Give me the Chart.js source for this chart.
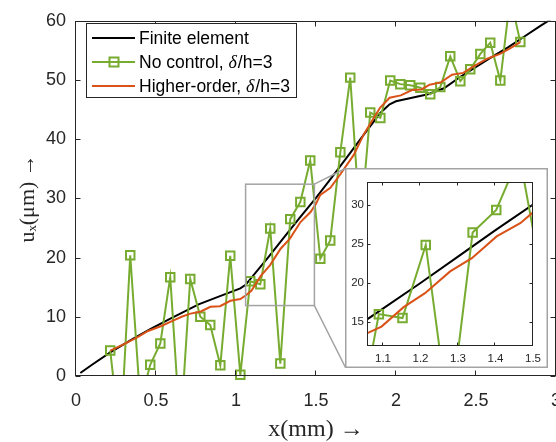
<!DOCTYPE html>
<html><head><meta charset="utf-8">
<script src="https://cdn.jsdelivr.net/npm/chart.js@4.4.0/dist/chart.umd.min.js"></script>
<style>
html,body{margin:0;padding:0;background:#fff;overflow:hidden;}
#wrap{position:relative;width:556px;height:442px;}
#main{position:absolute;left:0;top:0;}
#inset{position:absolute;left:345px;top:168px;background:#fff;}
</style></head><body>
<div id="wrap"><canvas id="main" width="556" height="442"></canvas><canvas id="inset" width="203" height="200"></canvas></div>
<script>
// ---------- data ----------
const seriesNames = ['Finite element', 'No control, ', 'Higher-order, '];
const seriesSuffix = ['', '/h=3', '/h=3'];

const xFiniteElement = [0.027, 0.1, 0.214, 0.35, 0.464, 0.59, 0.766, 0.9, 1.027, 1.06, 1.2, 1.3, 1.4, 1.5, 1.6, 1.7, 1.8, 1.85, 1.9, 1.96, 2.0, 2.1, 2.2, 2.3, 2.4, 2.5, 2.6, 2.7, 2.8, 2.9, 2.97];
const yFiniteElement = [0.5, 1.9, 4.0, 6.2, 7.9, 9.7, 12.1, 13.5, 14.8, 15.4, 20.0, 23.4, 26.8, 30.1, 33.6, 37.2, 40.8, 42.6, 44.4, 45.9, 46.4, 47.0, 47.6, 48.6, 50.5, 52.2, 53.9, 55.5, 57.3, 59.1, 60.3];

const xHigherOrder = [0.214, 0.30, 0.38, 0.45, 0.53, 0.61, 0.66, 0.71, 0.78, 0.84, 0.90, 0.965, 1.027, 1.06, 1.096, 1.155, 1.212, 1.279, 1.337, 1.403, 1.466, 1.5, 1.527, 1.59, 1.65, 1.735, 1.80, 1.90, 1.96, 2.03, 2.10, 2.16, 2.21, 2.28, 2.35, 2.42, 2.485, 2.57, 2.65, 2.71, 2.777];
const yHigherOrder = [4.3, 5.4, 6.5, 7.6, 8.4, 9.4, 10.0, 10.5, 10.9, 11.7, 11.8, 12.7, 13.0, 13.6, 14.4, 16.9, 18.7, 21.5, 23.2, 26.0, 27.7, 29.1, 30.6, 31.8, 34.0, 37.3, 40.9, 45.3, 47.0, 47.4, 48.3, 48.4, 49.2, 49.6, 50.9, 51.2, 52.3, 53.6, 54.4, 55.3, 56.4];

const xNoControl = [0.214, 0.277, 0.339, 0.402, 0.464, 0.527, 0.589, 0.652, 0.714, 0.777, 0.839, 0.902, 0.964, 1.027, 1.089, 1.152, 1.214, 1.277, 1.339, 1.402, 1.464, 1.527, 1.589, 1.652, 1.714, 1.777, 1.839, 1.902, 1.964, 2.027, 2.089, 2.152, 2.214, 2.277, 2.339, 2.402, 2.464, 2.527, 2.589, 2.652, 2.714, 2.777];
const yNoControl = [4.3, -11, 20.4, -4.5, 1.9, 5.5, 16.7, -9.5, 16.4, 10.0, 8.6, 1.8, 20.3, 0.2, 16.0, 15.5, 24.9, 2.1, 26.5, 29.4, 36.4, 19.8, 22.9, 37.8, 50.4, 25, 44.5, 43.6, 49.9, 49.3, 49.1, 48.7, 47.6, 48.8, 54.0, 49.8, 51.8, 54.4, 56.3, 49.9, 64, 56.4];

const xTicks = [0, 0.5, 1, 1.5, 2, 2.5, 3];
const xTickLabels = ['0', '0.5', '1', '1.5', '2', '2.5', '3'];
const yTicks = [0, 10, 20, 30, 40, 50, 60];
const yTickLabels = ['0', '10', '20', '30', '40', '50', '60'];
const insetXTicks = [1.1, 1.2, 1.3, 1.4, 1.5];
const insetXTickLabels = ['1.1', '1.2', '1.3', '1.4', '1.5'];
const insetYTicks = [15, 20, 25, 30];
const insetYTickLabels = ['15', '20', '25', '30'];
const xRange = [0, 3], yRange = [0, 60];
const insetXRange = [1.06, 1.5], insetYRange = [11.9, 33];
const zoomBoxX = [1.06, 1.49], zoomBoxY = [11.9, 32.4];
const xTitle = 'x(mm) \u2192';
const yTitle = 'u\u2093(\u03bcm) \u2192';

// ---------- styles ----------
const C_FE = '#000000', C_NC = '#77AC30', C_HO = '#D95319', C_AX = '#262626', C_GRAY = '#a3a3a3';
const SANS = '"Liberation Sans", Arial, sans-serif';
const SERIF = '"Liberation Serif", "DejaVu Serif", serif';

const pts = (xs, ys) => xs.map((x, i) => ({x, y: ys[i]}));

function datasets(mr) {
  return [
    {label: seriesNames[2], data: pts(xHigherOrder, yHigherOrder), borderColor: C_HO, borderWidth: 2, pointRadius: 0, showLine: true, clip: 0, order: 0},
    {label: seriesNames[1] + 'markers', data: pts(xNoControl, yNoControl), borderColor: C_NC, backgroundColor: 'rgba(0,0,0,0)', pointStyle: 'rect', pointRadius: mr, pointBorderWidth: 2, pointBorderColor: C_NC, pointBackgroundColor: 'rgba(0,0,0,0)', showLine: false, clip: 8, order: 1},
    {label: seriesNames[1], data: pts(xNoControl, yNoControl), borderColor: C_NC, borderWidth: 2, pointRadius: 0, showLine: true, clip: 0, order: 2},
    {label: seriesNames[0], data: pts(xFiniteElement, yFiniteElement), borderColor: C_FE, borderWidth: 2, pointRadius: 0, showLine: true, clip: 0, order: 3}
  ];
}

function boxTicks(tickLen) {
  return {
    id: 'boxTicks',
    afterDatasetsDraw(chart, args, opts) {
      const {ctx, chartArea: a, scales: {x, y}} = chart;
      ctx.save();
      ctx.strokeStyle = C_AX; ctx.lineWidth = 1;
      const L = Math.round(a.left) - 0.5, R = Math.round(a.right) - 0.5, T = Math.round(a.top) + 0.5, B = Math.round(a.bottom) - 0.5;
      ctx.strokeRect(L, T, R - L, B - T);
      ctx.beginPath();
      x.ticks.forEach(t => {
        const p = Math.round(x.getPixelForValue(t.value)) - 0.5;
        ctx.moveTo(p, B); ctx.lineTo(p, B - tickLen);
        ctx.moveTo(p, T); ctx.lineTo(p, T + tickLen);
      });
      y.ticks.forEach(t => {
        const p = Math.round(y.getPixelForValue(t.value)) + 0.5;
        ctx.moveTo(L, p); ctx.lineTo(L + tickLen, p);
        ctx.moveTo(R, p); ctx.lineTo(R - tickLen, p);
      });
      ctx.stroke();
      ctx.restore();
    }
  };
}

const zoomAndLegend = {
  id: 'zoomAndLegend',
  afterDatasetsDraw(chart) {
    const {ctx, scales: {x, y}} = chart;
    ctx.save();
    // zoom rectangle + connectors to inset
    const x0 = x.getPixelForValue(zoomBoxX[0]), x1 = x.getPixelForValue(zoomBoxX[1]);
    const y0 = y.getPixelForValue(zoomBoxY[1]), y1 = y.getPixelForValue(zoomBoxY[0]);
    ctx.strokeStyle = C_GRAY; ctx.lineWidth = 1.5;
    ctx.strokeRect(x0, y0, x1 - x0, y1 - y0);
    ctx.beginPath();
    ctx.moveTo(x1, y0); ctx.lineTo(345.5, 168.5);
    ctx.moveTo(x1, y1); ctx.lineTo(345.5, 367.5);
    ctx.stroke();
    // legend
    const bx = 86.5, by = 23.5, bw = 210, bh = 74;
    ctx.fillStyle = '#fff'; ctx.fillRect(bx, by, bw, bh);
    ctx.strokeStyle = C_AX; ctx.lineWidth = 1; ctx.strokeRect(bx, by, bw, bh);
    const rows = [38, 62, 86], cols = [C_FE, C_NC, C_HO];
    rows.forEach((ry, i) => {
      ctx.strokeStyle = cols[i]; ctx.lineWidth = 2;
      ctx.beginPath(); ctx.moveTo(92, ry); ctx.lineTo(135, ry); ctx.stroke();
      if (i === 1) { ctx.strokeRect(109.5, ry - 4.5, 9, 9); }
      ctx.fillStyle = '#000'; ctx.textBaseline = 'middle'; ctx.textAlign = 'left';
      ctx.font = '17.5px ' + SANS;
      let tx = 139;
      ctx.fillText(seriesNames[i], tx, ry + 1);
      if (seriesSuffix[i]) {
        tx += ctx.measureText(seriesNames[i]).width;
        ctx.font = 'italic 18px ' + SERIF;
        ctx.fillText('\u03b4', tx, ry + 1);
        tx += ctx.measureText('\u03b4').width + 1;
        ctx.font = '17.5px ' + SANS;
        ctx.fillText(seriesSuffix[i], tx, ry + 1);
      }
    });
    ctx.restore();
  }
};

const insetFrame = {
  id: 'insetFrame',
  afterDraw(chart) {
    const {ctx, width, height} = chart;
    ctx.save();
    ctx.strokeStyle = C_GRAY; ctx.lineWidth = 1.5;
    ctx.strokeRect(0.75, 0.75, width - 1.5, height - 1.5);
    ctx.restore();
  }
};

function axis(range, ticks, labels, size, pad, fit, extra) {
  return Object.assign({
    type: 'linear', min: range[0], max: range[1],
    afterBuildTicks: s => { s.ticks = ticks.map(v => ({value: v})); },
    afterFit: fit,
    grid: {display: false, drawTicks: false},
    border: {display: false},
    ticks: {autoSkip: false, maxRotation: 0, padding: pad, color: C_AX,
      font: {family: SANS, size: size}, callback: (v, i) => labels[i]}
  }, extra || {});
}

new Chart(document.getElementById('main'), {
  type: 'scatter',
  data: {datasets: datasets(6)},
  options: {
    responsive: false, animation: false, events: [],
    layout: {autoPadding: false, padding: {top: 13, right: 0, bottom: 0, left: 0}},
    plugins: {legend: {display: false}, tooltip: {enabled: false}},
    scales: {
      x: axis(xRange, xTicks, xTickLabels, 18, 14, s => { s.height = 66; s.paddingRight = 0; s.paddingLeft = 0; },
        {title: {display: true, text: xTitle, color: C_AX, padding: {top: 0, bottom: 0}, font: {family: SERIF, size: 24, lineHeight: 1}}}),
      y: axis(yRange, yTicks, yTickLabels, 18, 10, s => { s.width = 76; },
        {title: {display: true, text: yTitle, color: C_AX, padding: {top: 17, bottom: 0}, font: {family: SERIF, size: 22, lineHeight: 1}}})
    }
  },
  plugins: [boxTicks(5), zoomAndLegend]
});

new Chart(document.getElementById('inset'), {
  type: 'scatter',
  data: {datasets: datasets(6)},
  options: {
    responsive: false, animation: false, events: [],
    layout: {autoPadding: false, padding: {top: 14, right: 15, bottom: 0, left: 0}},
    plugins: {legend: {display: false}, tooltip: {enabled: false}},
    scales: {
      x: axis(insetXRange, insetXTicks, insetXTickLabels, 11.5, 5.5, s => { s.height = 22; s.paddingRight = 0; s.paddingLeft = 0; }),
      y: axis(insetYRange, insetYTicks, insetYTickLabels, 11.5, 4, s => { s.width = 23; s.paddingTop = 0; s.paddingBottom = 0; })
    }
  },
  plugins: [boxTicks(3), insetFrame]
});
</script>
</body></html>
